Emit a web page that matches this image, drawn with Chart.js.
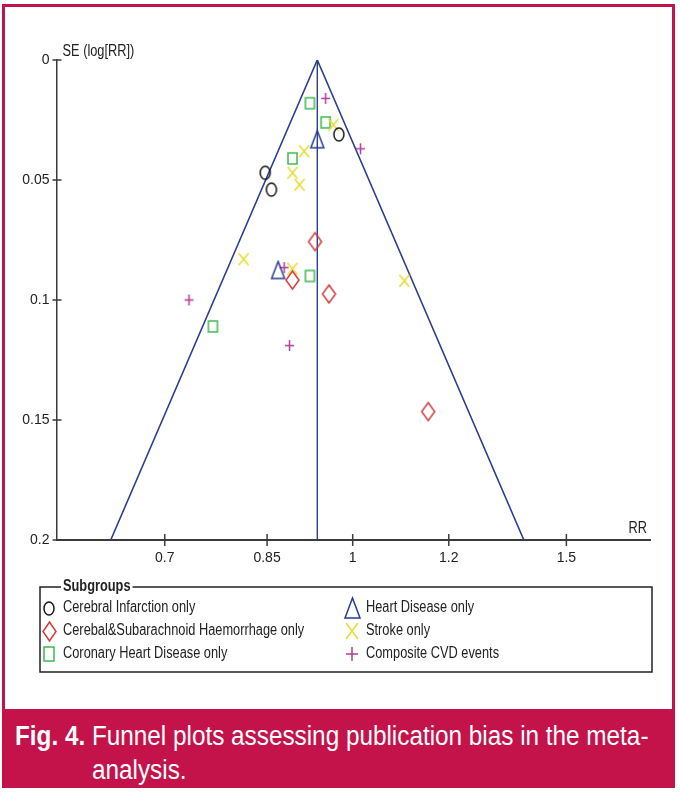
<!DOCTYPE html>
<html>
<head>
<meta charset="utf-8">
<script src="https://cdn.jsdelivr.net/npm/chart.js@4.4.1/dist/chart.umd.min.js"></script>
<style>
  body { margin: 0; background: #fff; }
  #frame { position: absolute; left: 2px; top: 4px; width: 667px; height: 702px;
           border: 3px solid #c4124a; border-bottom: none; background: #fff; }
  #plot { position: absolute; left: 0; top: 0; }
  #caption { position: absolute; left: 2px; top: 709px; width: 673px; height: 79px; background: #c4124a; }
  .cap { position: absolute; color: #fff; font-family: 'Liberation Sans', Arial, sans-serif;
         font-size: 27px; line-height: 27px; white-space: nowrap;
         transform: scaleX(0.9); transform-origin: 0 0; }
</style>
</head>
<body>
<div id="frame"></div>
<canvas id="plot" width="680" height="709"></canvas>
<div id="caption"></div>
<div class="cap" style="left:15px; top:723px;"><b>Fig. 4.</b> Funnel plots assessing publication bias in the meta-</div>
<div class="cap" style="left:92px; top:757px;">analysis.</div>
<script>
const FONT = "'Liberation Sans', Arial, sans-serif";
const AXIS_COLOR = '#3a3a3a';
const TEXT_COLOR = '#222';

// axis ticks
const X_TICKS = [0.7, 0.85, 1, 1.2, 1.5];
const Y_TICKS = [0, 0.05, 0.1, 0.15, 0.2];

// pooled estimate, funnel drawn from it (95% limits)
const POOLED_RR = 0.935;
const SE_MAX = 0.2;

// subgroups: RR and SE(log RR)
const infarctionRR = [0.974, 0.847, 0.857];
const infarctionSE = [0.031, 0.047, 0.054];
const heartRR = [0.935, 0.868];
const heartSE = [0.033, 0.0875];
const haemorrhageRR = [0.931, 0.892, 0.956, 1.154];
const haemorrhageSE = [0.0757, 0.0917, 0.0975, 0.1465];
const strokeRR = [0.964, 0.912, 0.892, 0.904, 0.813, 0.892, 1.103];
const strokeSE = [0.027, 0.038, 0.047, 0.052, 0.083, 0.087, 0.092];
const coronaryRR = [0.922, 0.95, 0.892, 0.922, 0.767];
const coronarySE = [0.018, 0.026, 0.041, 0.09, 0.111];
const compositeRR = [0.95, 1.015, 0.878, 0.733, 0.887];
const compositeSE = [0.016, 0.037, 0.0865, 0.1, 0.119];

// draw a marker onto a small canvas so it can be used as pointStyle
function marker(shape, color, w, h) {
    const c = document.createElement('canvas');
    c.width = w + 4;
    c.height = h + 4;
    const g = c.getContext('2d');
    const cx = c.width / 2, cy = c.height / 2, rx = w / 2, ry = h / 2;
    g.strokeStyle = color;
    g.lineWidth = 1.5;
    g.beginPath();
    if (shape === 'circle') {
        g.ellipse(cx, cy, rx, ry, 0, 0, Math.PI * 2);
    } else if (shape === 'square') {
        g.rect(cx - rx, cy - ry, w, h);
    } else if (shape === 'triangle') {
        g.moveTo(cx, cy - ry); g.lineTo(cx + rx, cy + ry); g.lineTo(cx - rx, cy + ry); g.closePath();
    } else if (shape === 'diamond') {
        g.moveTo(cx, cy - ry); g.lineTo(cx + rx, cy); g.lineTo(cx, cy + ry); g.lineTo(cx - rx, cy); g.closePath();
    } else if (shape === 'x') {
        g.moveTo(cx - rx, cy - ry); g.lineTo(cx + rx, cy + ry);
        g.moveTo(cx + rx, cy - ry); g.lineTo(cx - rx, cy + ry);
    } else if (shape === 'plus') {
        g.moveTo(cx, cy - ry); g.lineTo(cx, cy + ry);
        g.moveTo(cx - rx, cy); g.lineTo(cx + rx, cy);
    }
    g.stroke();
    return c;
}

const groups = [
    { label: 'Cerebral Infarction only', rr: infarctionRR, se: infarctionSE, shape: 'circle', color: '#151515', size: [10, 13], legendSize: [10, 13], col: 0, row: 0 },
    { label: 'Heart Disease only', rr: heartRR, se: heartSE, shape: 'triangle', color: '#2a3b8f', size: [13, 17], legendSize: [15, 20], col: 1, row: 0 },
    { label: 'Cerebal&Subarachnoid Haemorrhage only', rr: haemorrhageRR, se: haemorrhageSE, shape: 'diamond', color: '#d23a3a', size: [13, 18], legendSize: [13, 19], col: 0, row: 1 },
    { label: 'Stroke only', rr: strokeRR, se: strokeSE, shape: 'x', color: '#e6dc2a', size: [10, 12], legendSize: [12, 16], col: 1, row: 1 },
    { label: 'Coronary Heart Disease only', rr: coronaryRR, se: coronarySE, shape: 'square', color: '#3dbb4f', size: [9, 11], legendSize: [10, 14], col: 0, row: 2 },
    { label: 'Composite CVD events', rr: compositeRR, se: compositeSE, shape: 'plus', color: '#b03c9c', size: [9, 11], legendSize: [12, 14], col: 1, row: 2 }
];
groups.forEach(gr => {
    gr.img = marker(gr.shape, gr.color, gr.size[0], gr.size[1]);
    gr.legendImg = marker(gr.shape, gr.color, gr.legendSize[0], gr.legendSize[1]);
});

const lowerRR = POOLED_RR * Math.exp(-1.96 * SE_MAX);
const upperRR = POOLED_RR * Math.exp(1.96 * SE_MAX);

const datasets = groups.map(gr => ({
    label: gr.label,
    data: gr.rr.map((r, i) => ({ x: r, y: gr.se[i] })),
    pointStyle: gr.img,
    pointRadius: 6,
    order: 0
}));
datasets.push({
    label: 'funnel',
    data: [{ x: lowerRR, y: SE_MAX }, { x: POOLED_RR, y: 0 }, { x: upperRR, y: SE_MAX }],
    showLine: true, borderColor: '#2d3e8e', borderWidth: 1.6, pointRadius: 0, order: 10
});
datasets.push({
    label: 'pooled',
    data: [{ x: POOLED_RR, y: 0 }, { x: POOLED_RR, y: SE_MAX }],
    showLine: true, borderColor: '#2d3e8e', borderWidth: 1.4, pointRadius: 0, order: 10
});

function line(ctx, x1, y1, x2, y2) {
    ctx.beginPath();
    ctx.moveTo(x1, y1);
    ctx.lineTo(x2, y2);
    ctx.stroke();
}

// condensed text: the original uses a narrow face, squeeze Liberation Sans
function narrowText(ctx, text, x, y, align) {
    const w = ctx.measureText(text).width * 0.8;
    const left = align === 'right' ? x - w : x;
    ctx.save();
    ctx.translate(left, y);
    ctx.scale(0.8, 1);
    ctx.textAlign = 'left';
    ctx.fillText(text, 0, 0);
    ctx.restore();
    return w;
}

// tick marks, axis titles and the legend box
const decor = {
    id: 'decor',
    afterDraw(chart) {
        const { ctx, chartArea, scales } = chart;
        ctx.save();
        ctx.strokeStyle = AXIS_COLOR;
        ctx.lineWidth = 1.5;
        Y_TICKS.forEach(v => {
            const py = scales.y.getPixelForValue(v);
            line(ctx, chartArea.left - 4, py, chartArea.left + 5, py);
        });
        X_TICKS.forEach(v => {
            const px = scales.x.getPixelForValue(v);
            line(ctx, px, chartArea.bottom - 6, px, chartArea.bottom + 6);
        });

        ctx.fillStyle = TEXT_COLOR;
        ctx.font = `16px ${FONT}`;
        ctx.textBaseline = 'middle';
        narrowText(ctx, 'SE (log[RR])', chartArea.left + 6, chartArea.top - 8);
        narrowText(ctx, 'RR', chartArea.right - 3, chartArea.bottom - 11, 'right');

        // legend
        const box = { l: 40, t: 587, r: 652, b: 672 };
        ctx.strokeStyle = '#222';
        ctx.lineWidth = 1.5;
        ctx.strokeRect(box.l, box.t, box.r - box.l, box.b - box.t);
        ctx.font = `bold 16px ${FONT}`;
        const tw = ctx.measureText('Subgroups').width * 0.8;
        ctx.fillStyle = '#fff';
        ctx.fillRect(61, box.t - 3, tw + 4, 6);
        ctx.fillStyle = TEXT_COLOR;
        narrowText(ctx, 'Subgroups', 63, box.t);

        ctx.font = `16px ${FONT}`;
        const colX = [49, 352];
        const rowY = [608, 631, 654];
        groups.forEach(gr => {
            const mx = colX[gr.col], my = rowY[gr.row];
            ctx.drawImage(gr.legendImg, Math.round(mx - gr.legendImg.width / 2), Math.round(my - gr.legendImg.height / 2));
            narrowText(ctx, gr.label, mx + 14, my);
        });
        ctx.restore();
    }
};

new Chart(document.getElementById('plot'), {
    type: 'scatter',
    data: { datasets: datasets },
    options: {
        responsive: false,
        animation: false,
        layout: { padding: { left: 0, right: 30, top: 60, bottom: 129 } },
        plugins: { legend: { display: false }, tooltip: { enabled: false } },
        scales: {
            x: {
                type: 'logarithmic',
                min: 0.57,
                max: 1.758,
                afterBuildTicks: scale => { scale.ticks = X_TICKS.map(v => ({ value: v })); },
                afterFit: scale => { scale.height = 40; },
                grid: { display: false, drawTicks: false },
                border: { display: true, color: AXIS_COLOR, width: 2 },
                ticks: {
                    autoSkip: false, maxRotation: 0, padding: 10,
                    color: TEXT_COLOR, font: { family: FONT, size: 14 },
                    callback: v => String(v)
                }
            },
            y: {
                type: 'linear',
                reverse: true,
                min: 0,
                max: SE_MAX,
                afterBuildTicks: scale => { scale.ticks = Y_TICKS.map(v => ({ value: v })); },
                afterFit: scale => { scale.width = 56.5; },
                grid: { display: false, drawTicks: false },
                border: { display: true, color: AXIS_COLOR, width: 1.5 },
                ticks: {
                    autoSkip: false, padding: 7,
                    color: TEXT_COLOR, font: { family: FONT, size: 14 },
                    callback: v => String(v)
                }
            }
        }
    },
    plugins: [decor]
});
</script>
</body>
</html>
